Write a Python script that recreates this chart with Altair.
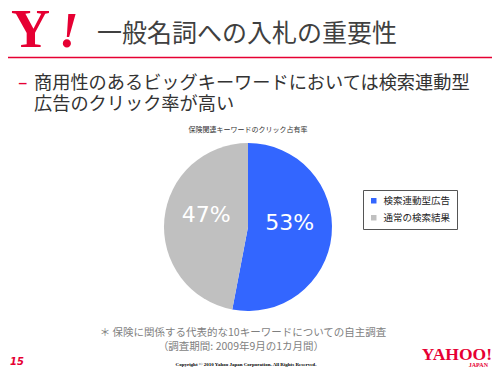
import altair as alt
import pandas as pd

# ---- data ----
categories = ["検索連動型広告", "通常の検索結果"]
shares = [53, 47]
labels = ["53%", "47%"]
colors = ["#3366ff", "#c0c0c0"]

title_text = "一般名詞への入札の重要性"
bullet_lines = ["商用性のあるビッグキーワードにおいては検索連動型", "広告のクリック率が高い"]
chart_title = "保険関連キーワードのクリック占有率"
note_lines = ["＊ 保険に関係する代表的な10キーワードについての自主調査",
              "（調査期間: 2009年9月の1カ月間）"]
page_number = "15"
copyright_text = "Copyright © 2010 Yahoo Japan Corporation. All Rights Reserved."

RED = "#e60033"
JP = "Noto Sans CJK JP"
M = 8  # page margin


def txt(s, x, y, size, color, font=JP, weight="normal", align="left",
        baseline="middle", style="normal"):
    return alt.Chart(pd.DataFrame({"t": [s]})).mark_text(
        fontSize=size, color=color, font=font, fontWeight=weight,
        align=align, baseline=baseline, fontStyle=style
    ).encode(x=alt.value(x - M), y=alt.value(y - M), text="t:N")


layers = []
# logo
layers.append(txt("Y", 11, 47, 54, RED, font="Liberation Serif", weight="bold", baseline="alphabetic"))
layers.append(txt("!", 59, 47, 50, RED, font="Liberation Serif", weight="bold", style="italic", baseline="alphabetic"))
# title
layers.append(txt(title_text, 97, 34, 25, "#404040"))
# red rule
layers.append(alt.Chart(pd.DataFrame({"a": [0]})).mark_rule(color=RED, strokeWidth=1.5).encode(
    x=alt.value(-M), x2=alt.value(500 - M), y=alt.value(57.5 - M)))
# bullet
layers.append(txt("–", 18, 83, 19, RED, font="DejaVu Sans"))
layers.append(txt(bullet_lines[0], 34, 84, 18.2, "#333333"))
layers.append(txt(bullet_lines[1], 34, 105, 18.2, "#333333"))
# chart title
layers.append(txt(chart_title, 248, 130, 7, "#333333", align="center"))

# pie
pie_df = pd.DataFrame({"cat": categories, "share": shares, "label": labels, "order": [0, 1]})
base = alt.Chart(pie_df).encode(
    theta=alt.Theta("share:Q", stack=True),
    order=alt.Order("order:Q"),
)
arcs = base.mark_arc(radius=84).encode(
    color=alt.Color(
        "cat:N",
        scale=alt.Scale(domain=categories, range=colors),
        legend=alt.Legend(
            title=None, orient="none", legendX=363 - M, legendY=190 - M,
            symbolType="square", symbolSize=30, symbolStrokeWidth=0,
            labelFontSize=9.5, labelFont=JP, labelColor="#222222",
            padding=6, rowPadding=6, labelOffset=5,
            strokeColor="#555555", fillColor="white",
        ),
    ),
    x=alt.value(248 - M),
    y=alt.value(227 - M),
)
pie_labels = base.mark_text(radius=42, dy=-8, fontSize=22, color="white", font="DejaVu Sans").encode(
    text="label:N",
    x=alt.value(248 - M),
    y=alt.value(227 - M),
)
layers += [arcs, pie_labels]

# notes
layers.append(txt(note_lines[0], 243, 333, 10.5, "#7f7f7f", align="center"))
layers.append(txt(note_lines[1], 241, 347, 10.5, "#7f7f7f", align="center"))
# footer
layers.append(txt(page_number, 10, 362, 10, RED, font="DejaVu Sans", weight="bold", style="italic"))
layers.append(txt(copyright_text, 246, 366, 5, "#000000", font="Liberation Serif", weight="bold",
                  align="center", baseline="alphabetic"))
layers.append(txt("YAHOO!", 492, 360, 17.5, RED, font="Liberation Serif", weight="bold", align="right", baseline="alphabetic"))
layers.append(txt("JAPAN", 488, 366.5, 6, RED, font="Liberation Serif", weight="bold", align="right", baseline="alphabetic"))

chart = alt.layer(*layers).properties(
    width=500 - 2 * M, height=375 - 2 * M, padding=0,
    autosize=alt.AutoSizeParams(type="none"),
    background="white",
).configure_view(stroke=None)

chart.save("out.html", embed_options={"renderer": "svg", "actions": False})
